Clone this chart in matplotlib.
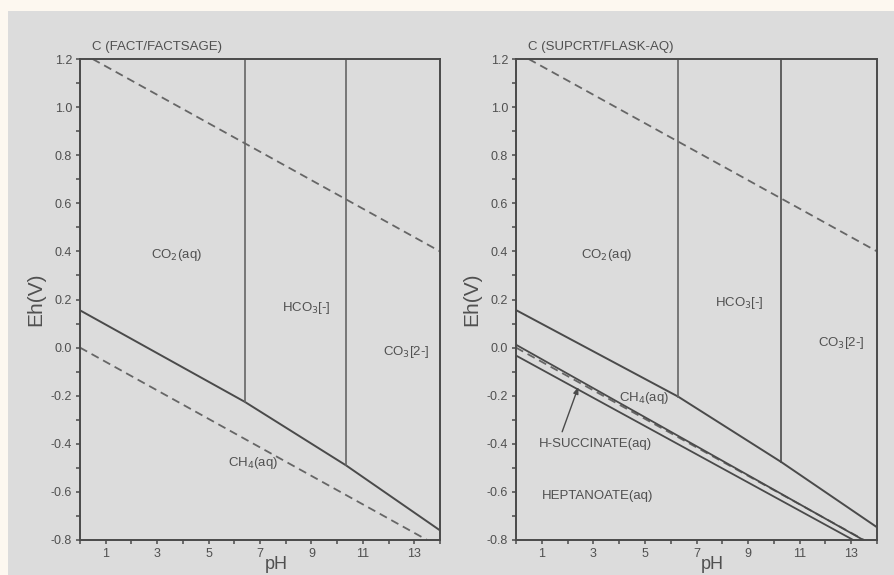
import matplotlib
matplotlib.use("Agg")
import matplotlib.pyplot as plt
from matplotlib.patches import Rectangle

plt.rcParams['font.family'] = ['Liberation Sans', 'DejaVu Sans']

# ---- data ----
titles = ["C (FACT/FACTSAGE)", "C (SUPCRT/FLASK-AQ)"]

# water stability lines (dashed)
upper_water_ph = [0.49, 14.0]
upper_water_eh = [1.20, 0.40]
lower_water_ph = [0.0, 13.5]
lower_water_eh = [0.0, -0.80]

# carbon(IV) / CH4 boundary
left_bound_ph = [0.0, 6.40, 10.35, 14.0]
left_bound_eh = [0.155, -0.225, -0.49, -0.76]
right_bound_ph = [0.0, 6.29, 10.29, 14.0]
right_bound_eh = [0.156, -0.204, -0.476, -0.747]

# extra boundaries in right panel
succ_ph = [0.0, 13.47]
succ_eh = [0.012, -0.80]
hept_ph = [0.0, 13.08]
hept_eh = [-0.033, -0.80]

# region labels: (text, pH, Eh)
left_labels = [("CO$_2$(aq)", 3.75, 0.385), ("HCO$_3$[-]", 8.8, 0.165),
               ("CO$_3$[2-]", 12.7, -0.02), ("CH$_4$(aq)", 6.75, -0.48)]
right_labels = [("CO$_2$(aq)", 3.5, 0.385), ("HCO$_3$[-]", 8.65, 0.185),
                ("CO$_3$[2-]", 12.6, 0.02), ("CH$_4$(aq)", 4.95, -0.21),
                ("H-SUCCINATE(aq)", 3.1, -0.40), ("HEPTANOATE(aq)", 3.15, -0.617)]
arrow_from = (1.79, -0.35)
arrow_to = (2.42, -0.163)

xmajor = [1, 3, 5, 7, 9, 11, 13]
xminor = [0, 2, 4, 6, 8, 10, 12, 14]
ymajor = [-0.8, -0.6, -0.4, -0.2, 0.0, 0.2, 0.4, 0.6, 0.8, 1.0, 1.2]
yminor = [-0.7, -0.5, -0.3, -0.1, 0.1, 0.3, 0.5, 0.7, 0.9, 1.1]

# ---- style ----
W, H = 894, 575
bg_outer = "#fdf8f0"
bg_inner = "#dcdcdc"
line_c = "#4a4a4a"
vert_c = "#666666"
text_c = "#505050"

fig = plt.figure(figsize=(W / 100, H / 100), dpi=100, facecolor=bg_outer)
fig.patches.append(Rectangle((8 / W, 0), 1 - 8 / W, 1 - 11 / H, transform=fig.transFigure,
                             facecolor=bg_inner, edgecolor="none", zorder=-10))

ax_l = fig.add_axes([80 / W, 1 - 540 / H, 360 / W, 481 / H])
ax_r = fig.add_axes([516 / W, 1 - 540 / H, 361 / W, 481 / H])

dash = (0, (4.5, 2.8))

for ax, title, bph, beh, labels in [(ax_l, titles[0], left_bound_ph, left_bound_eh, left_labels),
                                     (ax_r, titles[1], right_bound_ph, right_bound_eh, right_labels)]:
    ax.set_facecolor(bg_inner)
    ax.set_xlim(0, 14)
    ax.set_ylim(-0.8, 1.2)
    ax.plot(upper_water_ph, upper_water_eh, color=vert_c, lw=1.3, linestyle=dash, clip_on=False)
    ax.plot(lower_water_ph, lower_water_eh, color=vert_c, lw=1.3, linestyle=dash, clip_on=False)
    ax.plot(bph, beh, color=line_c, lw=1.4)
    ax.plot([bph[1], bph[1]], [1.2, beh[1]], color=vert_c, lw=1.2)
    ax.plot([bph[2], bph[2]], [1.2, beh[2]], color=line_c if ax is ax_r else vert_c, lw=1.2)
    for txt, x, y in labels:
        ax.text(x, y, txt, fontsize=9.5, color=text_c, ha="center", va="center")
    ax.text(0.45, 1.225, title, fontsize=9.5, color=text_c, ha="left", va="bottom")

    ax.set_xticks(xmajor)
    ax.set_xticks(xminor, minor=True)
    ax.set_xticklabels([str(v) for v in xmajor])
    ax.set_yticks(ymajor)
    ax.set_yticks(yminor, minor=True)
    ax.set_yticklabels(["%.1f" % v for v in ymajor])
    ax.tick_params(which="both", direction="out", length=3.2, width=1.1, color=line_c,
                   labelsize=9, labelcolor=text_c, pad=2.5)
    for s in ax.spines.values():
        s.set_color(line_c)
        s.set_linewidth(1.4)
    ax.set_ylabel("Eh(V)", fontsize=15, color=text_c, labelpad=4)
    ax.set_xlabel("pH", fontsize=13, color=text_c)
    ax.xaxis.set_label_coords(0.545, -0.033, transform=ax.transAxes)
    ax.xaxis.label.set_va("top")

ax_r.plot(succ_ph, succ_eh, color=line_c, lw=1.3)
ax_r.plot(hept_ph, hept_eh, color=line_c, lw=1.3)
ax_r.annotate("", xy=arrow_to, xytext=arrow_from,
              arrowprops=dict(arrowstyle="-|>,head_length=0.4,head_width=0.15",
                              color=line_c, lw=1.0, shrinkA=0, shrinkB=0))

fig.savefig("out.png", dpi=100, facecolor=bg_outer)
